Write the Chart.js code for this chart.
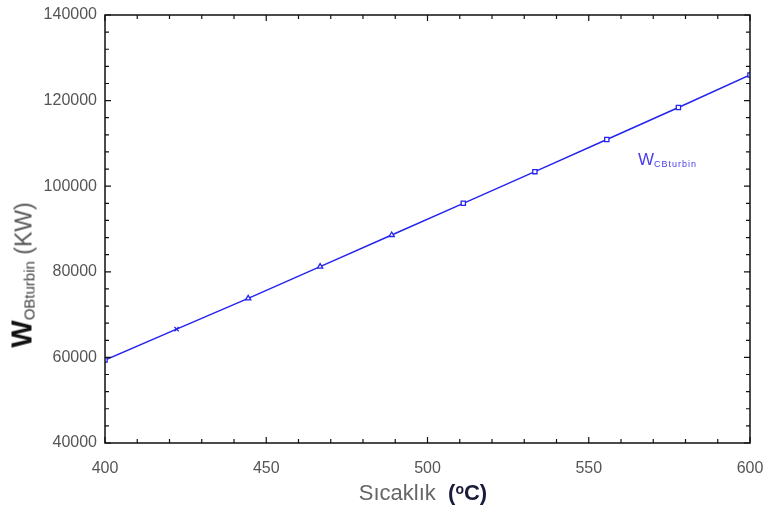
<!DOCTYPE html>
<html>
<head>
<meta charset="utf-8">
<script src="https://cdn.jsdelivr.net/npm/chart.js@4.4.1/dist/chart.umd.min.js"></script>
<style>
  html, body { margin: 0; padding: 0; background: #fff; }
  #wrap { position: relative; width: 767px; height: 510px; font-family: "Liberation Sans", Arial, sans-serif; }
  #chart { position: absolute; left: 0; top: 0; }
  .ytitle { position: absolute; left: 22px; top: 275px; transform: translate(-50%, -50%) rotate(-90deg); white-space: nowrap; color: #555; font-size: 23px; }
  .ytitle b { color: #111; font-size: 29px; }
  .ytitle sub { font-size: 15px; color: #444; vertical-align: -3px; }
  .xtitle { position: absolute; left: 423px; top: 493px; transform: translate(-50%, -50%); white-space: nowrap; color: #666; font-size: 22px; }
  .xtitle b { color: #1a1a3a; font-size: 22px; }
  .xtitle sup { font-size: 14px; vertical-align: 6px; }
  .legend { position: absolute; left: 638px; top: 150px; color: #4a3cf0; font-size: 17px; white-space: nowrap; }
  .legend sub { font-size: 9px; letter-spacing: 1px; vertical-align: -2px; }
</style>
</head>
<body>
<div id="wrap">
  <canvas id="chart" width="767" height="510"></canvas>
  <div class="ytitle"><b>W</b><sub>OBturbin</sub> (KW)</div>
  <div class="xtitle">Sıcaklık &nbsp;<b>(<sup>o</sup>C)</b></div>
  <div class="legend">W<sub>CBturbin</sub></div>
</div>
<script>
// data
const temps = [400, 422.2, 444.4, 466.7, 488.9, 511.1, 533.3, 555.6, 577.8, 600];
const power = [59400, 66600, 73800, 81200, 88600, 96000, 103400, 110900, 118400, 126000];
const markers = ['rect', 'crossRot', 'triangle', 'triangle', 'triangle', 'rect', 'rect', 'rect', 'rect', 'rect'];

const xTicks = [400, 450, 500, 550, 600];
const yTicks = [40000, 60000, 80000, 100000, 120000, 140000];

// inward ticks on all four sides, major + minor
const innerTicks = {
    id: 'innerTicks',
    afterDraw(chart) {
        const { ctx, chartArea: a, scales: { x, y } } = chart;
        ctx.save();
        ctx.strokeStyle = '#111';
        ctx.lineWidth = 1.5;
        ctx.strokeRect(a.left, a.top, a.right - a.left, a.bottom - a.top);
        ctx.lineWidth = 1.2;
        for (let v = 400; v <= 600; v += 10) {
            const px = x.getPixelForValue(v);
            const len = v % 50 === 0 ? 6 : 4;
            ctx.beginPath();
            ctx.moveTo(px, a.bottom); ctx.lineTo(px, a.bottom - len);
            ctx.moveTo(px, a.top); ctx.lineTo(px, a.top + len);
            ctx.stroke();
        }
        for (let v = 40000; v <= 140000; v += 4000) {
            const py = y.getPixelForValue(v);
            const len = v % 20000 === 0 ? 6 : 4;
            ctx.beginPath();
            ctx.moveTo(a.left, py); ctx.lineTo(a.left + len, py);
            ctx.moveTo(a.right, py); ctx.lineTo(a.right - len, py);
            ctx.stroke();
        }
        ctx.restore();
    }
};

new Chart(document.getElementById('chart'), {
    type: 'line',
    data: {
        datasets: [{
            data: temps.map((t, i) => ({ x: t, y: power[i] })),
            borderColor: '#2424f0',
            backgroundColor: '#ffffff',
            borderWidth: 1.5,
            pointStyle: markers,
            pointRadius: 3,
            pointBorderWidth: 1.3,
            pointBorderColor: '#2424f0',
            tension: 0
        }]
    },
    options: {
        responsive: false,
        animation: false,
        layout: { padding: { top: 15, right: 0, left: 0, bottom: 0 } },
        plugins: { legend: { display: false }, tooltip: { enabled: false } },
        scales: {
            x: {
                type: 'linear',
                min: 400, max: 600,
                afterBuildTicks: s => { s.ticks = xTicks.map(v => ({ value: v })); },
                afterFit: s => { s.height = 67; s.paddingRight = 17; },
                grid: { display: false },
                border: { display: false },
                ticks: { color: '#555', font: { family: 'Liberation Sans', size: 16 }, padding: 8,
                         callback: v => String(v) }
            },
            y: {
                min: 40000, max: 140000,
                afterBuildTicks: s => { s.ticks = yTicks.map(v => ({ value: v })); },
                afterFit: s => { s.width = 105; },
                grid: { display: false },
                border: { display: false },
                ticks: { color: '#555', font: { family: 'Liberation Sans', size: 16 }, padding: 0,
                         callback: v => String(v) }
            }
        }
    },
    plugins: [innerTicks]
});
</script>
</body>
</html>
